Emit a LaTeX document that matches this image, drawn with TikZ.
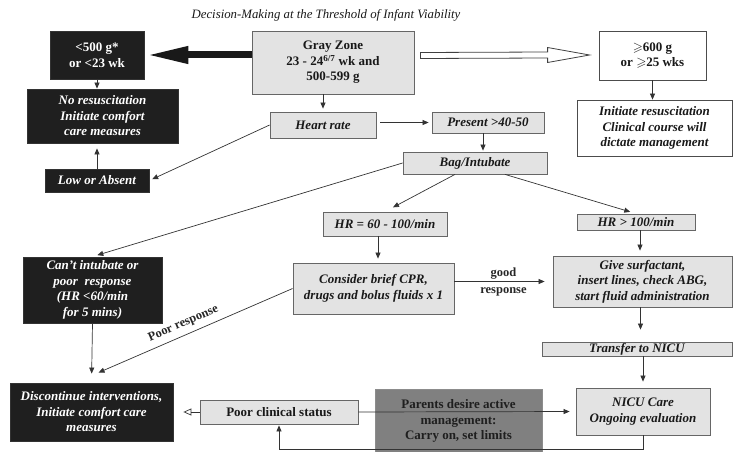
\documentclass[tikz,border=0pt]{standalone}
\usepackage{fontspec}
\setmainfont{Liberation Serif}
\usepackage{amssymb}
\usetikzlibrary{calc,arrows.meta}
\def\boxfont{\fontsize{13}{15.5}\selectfont\bfseries}
\tikzset{
	blackbox/.style={draw=black!80, fill=black!88, text=white, font=\boxfont\itshape, align=center, inner sep=0pt, line width=0.8pt},
	greybox/.style={draw=black!60, fill=black!11, text=black!90, font=\boxfont\itshape, align=center, inner sep=0pt, line width=0.8pt},
	whitebox/.style={draw=black!70, fill=white, text=black!90, font=\boxfont\itshape, align=center, inner sep=0pt, line width=0.8pt},
	upright/.style={font=\boxfont},
	link/.style={draw=black!80, line width=0.7pt, -{Triangle[length=6pt, width=5pt]}},
}

\begin{document}
\begin{tikzpicture}[x=1pt, y=-1pt]
			%%%%% START %%%%%
			\useasboundingbox (0, 0) rectangle (733, 452);
			
			\node[font=\fontsize{12.8}{15}\selectfont\itshape, text=black!90] (title) at (326, 15) {Decision-Making at the Threshold of Infant Viability};
			
			\node[blackbox, upright, minimum width=94pt, minimum height=48pt] (lt500) at (97, 55) {<500 g*\\or <23 wk};
			\node[blackbox, minimum width=151pt, minimum height=54pt] (noresus) at (102.5, 116) {No resuscitation\\Initiate comfort\\care measures};
			\node[blackbox, minimum width=104pt, minimum height=23pt] (lowabs) at (97, 180.5) {Low or Absent};
			
			\node[greybox, upright, minimum width=162pt, minimum height=63pt] (gray) at (333, 62.5) {Gray Zone\\23 - 24\textsuperscript{6/7} wk and\\500-599 g};
			\node[whitebox, upright, minimum width=107pt, minimum height=49pt] (ge600) at (652.5, 55.5) {$\geqslant$600 g\\or $\geqslant$25 wks};
			\node[whitebox, minimum width=155pt, minimum height=56pt] (initres) at (654.5, 128) {Initiate resuscitation\\Clinical course will\\dictate management};
			
			\node[greybox, minimum width=106pt, minimum height=26pt] (heart) at (323, 125) {Heart rate};
			\node[greybox, minimum width=112pt, minimum height=21pt] (present) at (488, 122.5) {Present >40-50};
			\node[greybox, minimum width=144pt, minimum height=22pt] (bag) at (475, 163) {Bag/Intubate};
			
			\node[greybox, minimum width=124pt, minimum height=24pt] (hr60) at (385, 224) {HR = 60 - 100/min};
			\node[greybox, minimum width=118pt, minimum height=16pt] (hr100) at (636, 222) {HR > 100/min};
			\node[greybox, minimum width=161pt, minimum height=51pt] (consider) at (373.5, 288.5) {Consider brief CPR,\\drugs and bolus fluids x 1};
			\node[greybox, minimum width=179pt, minimum height=51pt] (give) at (642.5, 281.5) {Give surfactant,\\insert lines, check ABG,\\start fluid administration};
			\node[greybox, minimum width=190pt, minimum height=14pt] (transfer) at (637, 349) {Transfer to NICU};
			\node[greybox, minimum width=134pt, minimum height=47pt] (nicu) at (643, 411.5) {NICU Care\\Ongoing evaluation};
			
			\node[draw=black!45, fill=black!50, text=black!88, font=\boxfont, align=center, inner sep=0pt, minimum width=167pt, minimum height=64pt] (parents) at (458.5, 421) {Parents desire active\\management:\\Carry on, set limits};
			\node[greybox, upright, minimum width=158pt, minimum height=24pt] (poor) at (279, 412) {Poor clinical status};
			\node[blackbox, minimum width=163pt, minimum height=58pt] (disc) at (91.5, 412) {Discontinue interventions,\\Initiate comfort care\\measures};
			\node[blackbox, minimum width=139pt, minimum height=66pt] (cant) at (92.5, 290) {Can't intubate or\\poor\ \ response\\(HR <60/min\\for 5 mins)};
			
			% big arrows from the gray zone
			\draw[line width=7pt, black!90, shorten >=2pt, -{Triangle[length=42pt, width=16pt]}] (gray.west |- lt500.east) -- (lt500.east);
			\coordinate (os) at ($(gray.east |- ge600.west)+(6, 0)$);
			\coordinate (oe) at ($(ge600.west)+(-9, -0.5)$);
			\draw[line width=0.8pt, black!75, fill=white] ($(os)+(0, -3)$) -- ($(oe)+(-42, -3)$) -- ($(oe)+(-42, -7.5)$) -- (oe) -- ($(oe)+(-42, 7.5)$) -- ($(oe)+(-42, 3)$) -- ($(os)+(0, 3)$) -- cycle;
			
			% start points of the down arrows
			\coordinate (pb) at ($(present.south)+(-5, 0)$);
			\coordinate (b60) at ($(bag.south)+(-20, 0)$);
			\coordinate (b100) at ($(bag.south)+(30, 0)$);
			\coordinate (hc) at ($(hr60.south)+(-7, 0)$);
			\coordinate (hg) at ($(hr100.south)+(4, 0)$);
			\coordinate (gt) at ($(give.south)+(-2, 0)$);
			\coordinate (pr) at ($(disc.north)+(7, -10)$);
			
			\draw[link] (lt500.south) -- (lt500.south |- noresus.north);
			\draw[link, shorten >=5pt] (lowabs.north) -- (lowabs.north |- noresus.south);
			\draw[link, shorten >=3pt] (heart.west) -- (lowabs.east);
			\draw[link] (ge600.south) -- (ge600.south |- initres.north);
			
			\draw[link, shorten >=3pt] (heart.north |- gray.south) -- (heart.north);
			\draw[link, shorten <=4pt, shorten >=3pt] (heart.east |- present.west) -- (present.west);
			\draw[link, shorten >=1pt] (pb) -- (pb |- bag.north);
			
			\draw[link, shorten >=5pt] (bag.west) -- (cant.north);
			\draw[link, shorten >=9pt] (b60) -- (hr60.north);
			\draw[link, shorten >=6pt] (b100) -- (hr100.north);
			
			\draw[link, shorten >=4pt] (hc) -- (hc |- consider.north);
			\draw[link, shorten >=5pt] (hg) -- (hg |- give.north);
			\draw[link, shorten >=8pt] (consider.east |- give.west) -- (give.west) node[midway, font=\fontsize{12.5}{17}\selectfont\bfseries, text=black!85, align=center] {good\\response};
			\draw[link, shorten >=12pt] (gt) -- (gt |- transfer.north);
			\draw[link, shorten >=6pt] (transfer.south -| nicu.south) -- (nicu.north);
			
			\draw[link, shorten >=6pt] (poor.east) -- (nicu.west);
			\draw[link, shorten >=1pt] (nicu.south) -- ++(0, 14) -| (poor.south);
			\draw[draw=black!80, line width=0.7pt, shorten >=10pt, -{Triangle[open, length=8pt, width=7pt]}] (poor.west) -- (disc.east);
			
			\draw[link, shorten >=9pt] (cant.south) -- (disc.north);
			\draw[link] (consider.west) -- (pr) node[pos=0.54, sloped, above=2pt, font=\fontsize{12.5}{15}\selectfont\bfseries, text=black!85] {Poor response};
			
			%%%%% END %%%%%
\end{tikzpicture}
\end{document}
